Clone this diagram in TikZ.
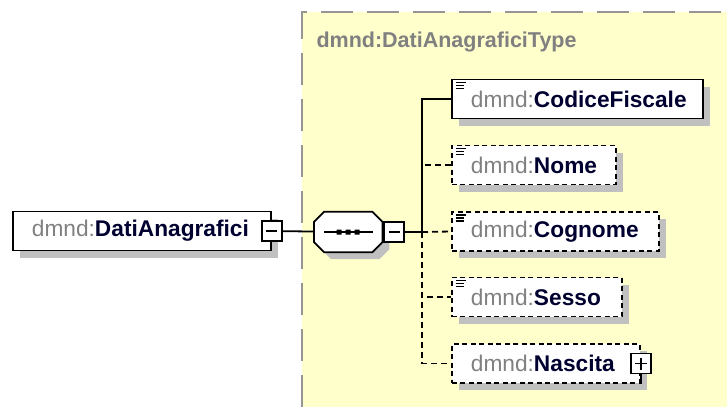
\documentclass[tikz,border=0pt]{standalone}
\usepackage{fontspec}
\setmainfont{Liberation Sans}
\usetikzlibrary{shadows}

\definecolor{typebg}{RGB}{255,255,204}
\definecolor{typeframe}{RGB}{150,150,150}
\definecolor{shade}{RGB}{192,192,192}
\definecolor{pfx}{RGB}{128,128,128}
\definecolor{elname}{RGB}{0,0,48}

\newcommand{\dmnd}[1]{\mbox{{\color{pfx}dmnd:}{\color{elname}\bfseries #1}}}

\begin{document}
\begin{tikzpicture}[x=1pt, y=-1pt, font=\fontsize{22.7}{26}\selectfont]
    \useasboundingbox (0,0) rectangle (727,407);
    % complex type area
    \fill[typebg] (302,12) rectangle (727,407);
    \draw[typeframe, line width=2pt, dash pattern=on 32pt off 14pt] (302,407) -- (302,12) -- (727,12);
    \node[anchor=west, text=pfx, font=\fontsize{21.5}{26}\selectfont\bfseries] (typename) at (313,42) {dmnd:DatiAnagraficiType};

    \begin{scope}
        \tikzstyle{every node}=[draw=black, fill=white, line width=1.8pt, anchor=west, minimum height=39pt, inner xsep=19pt, inner ysep=0pt, align=left, general shadow={fill=shade, shadow xshift=7pt, shadow yshift=-7pt}]
        \tikzstyle{opt}=[dash pattern=on 5pt off 3.5pt]
        \tikzstyle{simple}=[path picture={\draw[line width=1.2pt, solid]
            ([shift={(4pt,-3pt)}]path picture bounding box.north west) -- ++(10pt,0pt)
            ([shift={(4pt,-6pt)}]path picture bounding box.north west) -- ++(8pt,0pt)
            ([shift={(4pt,-9pt)}]path picture bounding box.north west) -- ++(8pt,0pt);}]
        \node[text width=220pt] (da) at (12,231) {\dmnd{DatiAnagrafici}};
        \node[simple, text width=213pt] (cf) at (451,99) {\dmnd{CodiceFiscale}};
        \node[simple, opt, text width=126pt] (nome) at (451,165) {\dmnd{Nome}};
        \node[simple, opt, text width=169pt] (cognome) at (451,231.5) {\dmnd{Cognome}};
        \node[simple, opt, text width=132pt] (sesso) at (451,297) {\dmnd{Sesso}};
        \node[opt, text width=150pt] (nascita) at (451,363.5) {\dmnd{Nascita}};
    \end{scope}

    % sequence compositor
    \node[minimum width=68pt, minimum height=40pt, inner sep=0pt, anchor=west] (seq) at (314,232) {};
    \draw[line width=1.8pt, fill=white, general shadow={fill=shade, shadow xshift=7pt, shadow yshift=-7pt}]
        ([xshift=10pt]seq.north west) -- ([xshift=-10pt]seq.north east) -- ([yshift=-10pt]seq.north east)
        -- ([yshift=10pt]seq.south east) -- ([xshift=-10pt]seq.south east) -- ([xshift=10pt]seq.south west)
        -- ([yshift=10pt]seq.south west) -- ([yshift=-10pt]seq.north west) -- cycle;
    \draw[line width=1.8pt] (seq.center) +(-24,0) -- +(25,0);
    \fill (seq.center) +(-11.5,-2.5) rectangle +(-6.5,2.5) +(-2.5,-2.5) rectangle +(2.5,2.5) +(6.5,-2.5) rectangle +(11.5,2.5);

    \begin{scope}
        \tikzstyle{every node}=[draw=black, fill=white, line width=1.8pt, minimum size=20pt, inner sep=0pt]
        \tikzstyle{collapse}=[path picture={\draw[line width=1.6pt] ([xshift=-5.5pt]path picture bounding box.center) -- ([xshift=5.5pt]path picture bounding box.center);}]
        \tikzstyle{expand}=[path picture={\draw[line width=1.6pt] ([xshift=-6pt]path picture bounding box.center) -- ([xshift=6pt]path picture bounding box.center) ([yshift=-6pt]path picture bounding box.center) -- ([yshift=6pt]path picture bounding box.center);}]
        \node[collapse] (daminus) at (da.east) {};
        \node[collapse, anchor=west] (seqminus) at ([xshift=1pt]seq.east) {};
        \node[expand] (nasplus) at (nascita.east) {};
    \end{scope}

    \coordinate (j) at (422,232);
    \coordinate (nasstub) at (nasplus.south |- nascita.south);
    \begin{scope}
        \tikzstyle{every edge}=[draw, line width=1.8pt]
        \tikzstyle{elbow}=[to path={|- (\tikztotarget)}]
        \tikzstyle{opt}=[dash pattern=on 6pt off 4pt]
        \path
        (daminus) edge (seq)
        (seqminus) edge (j)
        (j) edge[elbow] (cf.west)
        (j) edge[elbow, opt] (nome.west)
        (j) edge[opt] (cognome.west)
        (j) edge[elbow, opt] (sesso.west)
        (j) edge[elbow, opt] (nascita.west)
        (nasplus) edge (nasstub);
    \end{scope}
\end{tikzpicture}
\end{document}
